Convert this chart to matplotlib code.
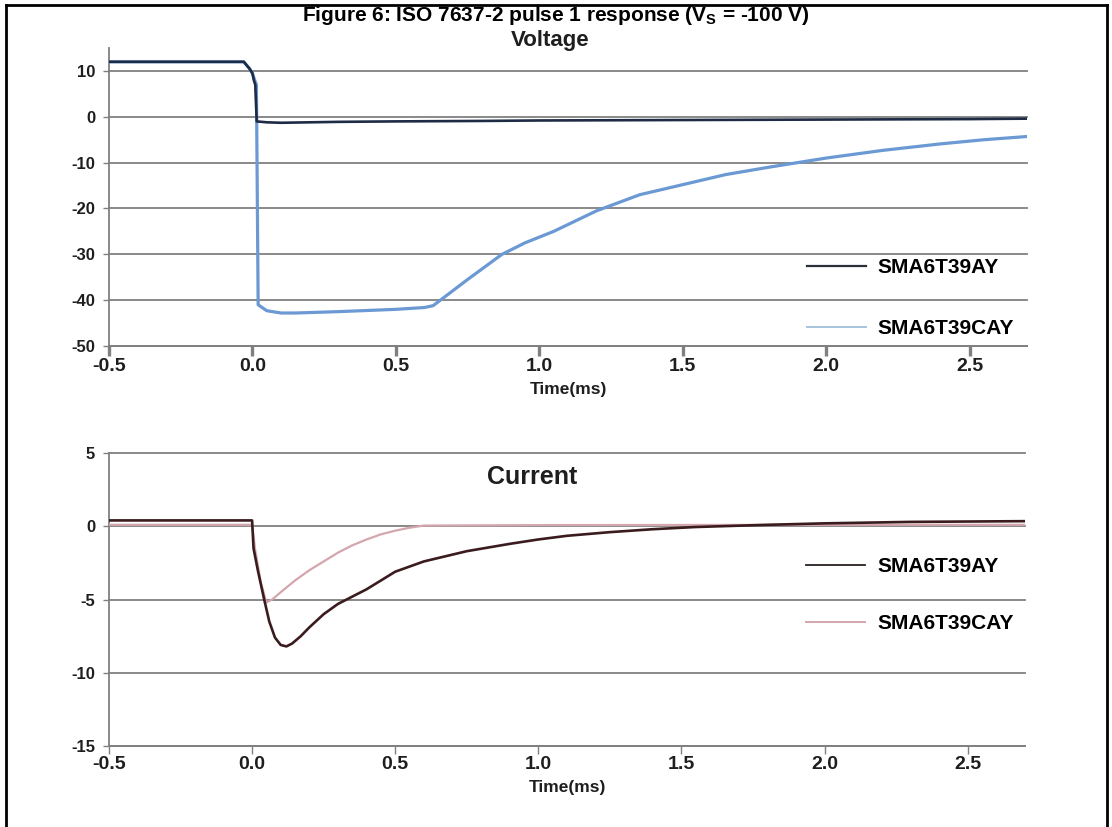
#!/usr/bin/env python3
"""ISO 7637-2 pulse 1 response: voltage and current of two TVS diodes."""

import matplotlib

matplotlib.use("Agg")
import matplotlib.pyplot as plt
from matplotlib.lines import Line2D

plt.rcParams["font.family"] = ["Liberation Sans", "DejaVu Sans"]
plt.rcParams["font.weight"] = "bold"
plt.rcParams["mathtext.fontset"] = "custom"
plt.rcParams["mathtext.rm"] = "Liberation Sans:bold"
plt.rcParams["mathtext.it"] = "Liberation Sans:bold"
plt.rcParams["mathtext.bf"] = "Liberation Sans:bold"

# Voltage panel (V) vs time (ms)
v_t_ay = [-0.5, -0.03, -0.01, 0.0, 0.005, 0.01, 0.015, 0.05, 0.1, 0.3, 0.5,
          0.8, 1.0, 1.5, 2.0, 2.5, 2.7]
v_ay = [12, 12, 10.5, 9.5, 8, 7, -1.0, -1.2, -1.3, -1.1, -1.0,
        -0.9, -0.8, -0.7, -0.6, -0.5, -0.4]

v_t_cay = [-0.5, -0.03, -0.01, 0.0, 0.008, 0.014, 0.02, 0.05, 0.1, 0.15, 0.3,
           0.5, 0.6, 0.63, 0.75, 0.87, 0.95, 1.05, 1.2, 1.35, 1.5, 1.65, 1.8,
           2.0, 2.2, 2.4, 2.55, 2.7]
v_cay = [12, 12, 10.5, 9.5, 8, 7, -41, -42.3, -42.8, -42.8, -42.5,
         -42.0, -41.6, -41.2, -35.5, -30, -27.5, -25, -20.5, -17, -14.8, -12.6, -11,
         -9, -7.3, -5.9, -5.0, -4.3]

# Current panel (A) vs time (ms)
i_t_ay = [-0.5, 0.0, 0.005, 0.02, 0.04, 0.06, 0.08, 0.1, 0.12, 0.14, 0.17, 0.2,
          0.25, 0.3, 0.35, 0.4, 0.5, 0.6, 0.75, 0.9, 1.0, 1.1, 1.25, 1.4, 1.55,
          1.8, 2.0, 2.3, 2.7]
i_ay = [0.4, 0.4, -1.5, -3.0, -4.8, -6.5, -7.6, -8.1, -8.2, -8.0, -7.5, -6.9,
        -6.0, -5.3, -4.8, -4.3, -3.1, -2.4, -1.7, -1.2, -0.9, -0.65, -0.4, -0.2,
        -0.05, 0.1, 0.2, 0.3, 0.35]

i_t_cay = [-0.5, 0.0, 0.01, 0.03, 0.05, 0.07, 0.1, 0.15, 0.2, 0.25, 0.3, 0.35,
           0.4, 0.45, 0.5, 0.55, 0.6, 1.0, 2.0, 2.7]
i_cay = [0.1, 0.1, -1.5, -3.8, -5.2, -5.0, -4.5, -3.7, -3.0, -2.4, -1.8, -1.3,
         -0.9, -0.55, -0.3, -0.1, 0.05, 0.08, 0.1, 0.1]

x_ticks = [-0.5, 0.0, 0.5, 1.0, 1.5, 2.0, 2.5]
v_ticks = [10, 0, -10, -20, -30, -40, -50]
i_ticks = [5, 0, -5, -10, -15]
labels = ["SMA6T39AY", "SMA6T39CAY"]

GRID = "#808080"
TEXT = "#1e1e1e"

fig = plt.figure(figsize=(11.12, 8.27), dpi=100)


def style_axes(ax, yticks, ylim, tick_w, tick_len):
    ax.set_xlim(-0.5, 2.7)
    ax.set_ylim(*ylim)
    ax.set_xticks(x_ticks)
    ax.set_xticklabels([f"{x:.1f}" for x in x_ticks])
    ax.set_yticks(yticks)
    ax.set_yticklabels([str(y) for y in yticks])
    for y in yticks:
        ax.axhline(y, color=GRID, lw=1.3, zorder=1, clip_on=False)
    for s in ["top", "right"]:
        ax.spines[s].set_visible(False)
    for s in ["left", "bottom"]:
        ax.spines[s].set_color(GRID)
        ax.spines[s].set_linewidth(1.3)
    ax.tick_params(axis="x", colors=GRID, width=tick_w, length=tick_len,
                   labelcolor=TEXT, labelsize=14, pad=1.5)
    ax.tick_params(axis="y", colors=GRID, width=1, length=4,
                   labelcolor=TEXT, labelsize=12, pad=6)
    ax.set_xlabel("Time(ms)", fontsize=12.5, fontweight="bold", color=TEXT,
                  labelpad=5)


def add_legend(ax, handles, anchor, spacing):
    ax.legend(
        handles, labels, loc="center left", bbox_to_anchor=anchor,
        frameon=False, borderpad=0, borderaxespad=0, handlelength=2.85,
        handletextpad=0.57, labelspacing=spacing,
        prop={"size": 15, "weight": "bold"},
    )


# Voltage panel
ax1 = fig.add_axes([0.098, 0.5816, 0.8255, 0.3603])
style_axes(ax1, v_ticks, (-50, 15), 2.4, 7)
ax1.plot(v_t_ay, v_ay, color="#1e2b45", lw=1.9, zorder=4)
ax1.plot(v_t_cay, v_cay, color="#6b99d4", lw=2.3, zorder=3)
add_legend(ax1, [Line2D([], [], color="#2a2f3a", lw=1.6),
                 Line2D([], [], color="#a8c2dc", lw=1.4)],
           (0.76, 0.161), 2.0)

# Current panel
ax2 = fig.add_axes([0.098, 0.0979, 0.8237, 0.3543])
style_axes(ax2, i_ticks, (-15, 5), 1.0, 6)
ax2.plot(i_t_cay, i_cay, color="#d4a6ad", lw=1.6, zorder=3)
ax2.plot(i_t_ay, i_ay, color="#3a1c1e", lw=1.9, zorder=4)
add_legend(ax2, [Line2D([], [], color="#2a2020", lw=1.3),
                 Line2D([], [], color="#d4a6ad", lw=1.4)],
           (0.761, 0.515), 1.85)

# Titles
fig.text(0.5, 1 - 21 / 827,
         r"Figure 6: ISO 7637-2 pulse 1 response (V$_\mathrm{S}$ = -100 V)",
         ha="center", va="baseline", fontsize=15, fontweight="bold")
fig.text(550 / 1112, 1 - 46 / 827, "Voltage", ha="center", va="baseline",
         fontsize=16, fontweight="bold", color=TEXT)
fig.text(532 / 1112, 1 - 477 / 827, "Current", ha="center", va="center",
         fontsize=18, fontweight="bold", color=TEXT)

# Frame around the figure (open at the bottom)
bx0, bx1, by1 = 6 / 1112, 1107 / 1112, 1 - 5 / 827
for xs, ys in [((bx0, bx0), (0, by1)), ((bx0, bx1), (by1, by1)), ((bx1, bx1), (by1, 0))]:
    fig.add_artist(Line2D(xs, ys, color="black", lw=2.0, transform=fig.transFigure))

fig.savefig("out.png", dpi=100)
